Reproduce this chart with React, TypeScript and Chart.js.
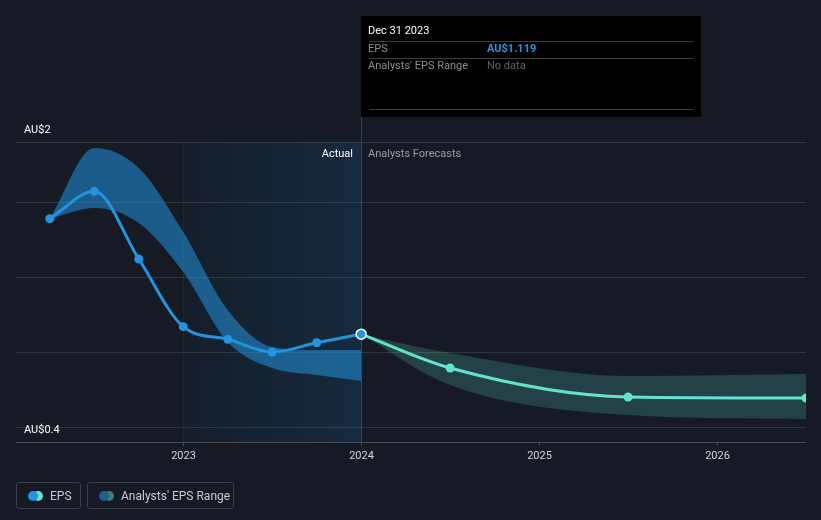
import React, { useEffect, useRef } from "react";
import { Chart, registerables } from "chart.js";

Chart.register(...registerables);

// ---- data ----
const pastDates = [2022.25, 2022.5, 2022.75, 2023.0, 2023.25, 2023.5, 2023.75, 2024.0];
const epsActual = [1.889, 2.071, 1.62, 1.169, 1.085, 1.0, 1.062, 1.119];
const pastRangeHigh = [1.889, 2.36, 2.227, 1.8, 1.28, 1.033, 1.013, 1.013];
const pastRangeLow = [1.889, 1.96, 1.86, 1.533, 1.067, 0.893, 0.847, 0.807];

const forecastDates = [2024.0, 2024.5, 2025.5, 2026.5];
const epsForecast = [1.119, 0.893, 0.7, 0.693];
const forecastHigh = [1.119, 0.993, 0.84, 0.853];
const forecastLow = [1.119, 0.78, 0.58, 0.553];

const yearTicks = [2023, 2024, 2025, 2026];
const gridValues = [0.5, 1.0, 1.5, 2.0, 2.4];
const yMin = 0.4;
const yMax = 2.4;
const xMin = 2022.06;
const xMax = 2026.5;
const actualStart = 2023;
const actualEnd = 2024;
const yLabelTop = "AU$2";
const yLabelBottom = "AU$0.4";
const tooltipDate = "Dec 31 2023";
const tooltipEpsLabel = "EPS";
const tooltipEpsValue = "AU$1.119";
const tooltipRangeLabel = "Analysts' EPS Range";
const tooltipRangeValue = "No data";

const BG = "#151a24";
const BLUE = "#2394df";
const TEAL = "#62e3cf";
const FONT = "Roboto, 'Open Sans', sans-serif";

const toXY = (xs: number[], ys: number[]) => xs.map((x, i) => ({ x, y: ys[i] }));

const overlayPlugin = {
  id: "overlay",
  beforeDatasetsDraw(chart: any) {
    const { ctx, chartArea: a, scales } = chart;
    const xs = scales.x;
    const x0 = Math.round(xs.getPixelForValue(actualStart)) + 0.5;
    const x1 = Math.round(xs.getPixelForValue(actualEnd)) + 0.5;
    ctx.save();
    const g = ctx.createLinearGradient(x0, 0, x1, 0);
    g.addColorStop(0, "rgba(35,148,223,0.03)");
    g.addColorStop(1, "rgba(35,148,223,0.14)");
    ctx.fillStyle = g;
    ctx.fillRect(x0, a.top, x1 - x0, a.bottom - a.top);
    ctx.lineWidth = 1;
    ctx.strokeStyle = "rgba(35,148,223,0.12)";
    ctx.beginPath();
    ctx.moveTo(x0, a.top);
    ctx.lineTo(x0, a.bottom);
    ctx.stroke();
    ctx.strokeStyle = "rgba(35,148,223,0.4)";
    ctx.beginPath();
    ctx.moveTo(x1, a.top - 126);
    ctx.lineTo(x1, a.bottom);
    ctx.stroke();
    // axis line
    ctx.strokeStyle = "#464b54";
    ctx.beginPath();
    ctx.moveTo(a.left, a.bottom + 0.5);
    ctx.lineTo(a.right, a.bottom + 0.5);
    ctx.stroke();
    // x ticks + labels
    ctx.fillStyle = "#d8d8d8";
    ctx.font = `11px ${FONT}`;
    ctx.textAlign = "center";
    ctx.textBaseline = "middle";
    yearTicks.forEach((yr) => {
      const px = Math.round(xs.getPixelForValue(yr)) + 0.5;
      ctx.beginPath();
      ctx.moveTo(px, a.bottom);
      ctx.lineTo(px, a.bottom + 4);
      ctx.stroke();
      ctx.fillText(String(yr), px, a.bottom + 14);
    });
    ctx.restore();
  },
  afterDraw(chart: any) {
    const { ctx, chartArea: a, scales } = chart;
    const xs = scales.x;
    const ys = scales.y;
    const x1 = Math.round(xs.getPixelForValue(actualEnd));
    ctx.save();
    ctx.font = `11px ${FONT}`;
    ctx.textBaseline = "middle";
    // y labels
    ctx.fillStyle = "#ffffff";
    ctx.textAlign = "left";
    ctx.fillText(yLabelTop, a.left + 8, ys.getPixelForValue(yMax) - 12);
    ctx.fillText(yLabelBottom, a.left + 8, ys.getPixelForValue(yMin) - 12);
    // Actual / forecasts labels
    ctx.textAlign = "right";
    ctx.fillStyle = "#ffffff";
    ctx.fillText("Actual", x1 - 8, a.top + 12);
    ctx.textAlign = "left";
    ctx.fillStyle = "#9a9ea6";
    ctx.fillText("Analysts Forecasts", x1 + 7, a.top + 12);
    // tooltip box
    const bx = x1;
    const by = a.top - 126;
    const bw = 340;
    const bh = 101;
    ctx.fillStyle = "#000000";
    ctx.fillRect(bx, by, bw, bh);
    ctx.strokeStyle = "#3c3c3c";
    ctx.lineWidth = 1;
    [25, 42, 93].forEach((dy) => {
      ctx.beginPath();
      ctx.moveTo(bx + 8, by + dy + 0.5);
      ctx.lineTo(bx + bw - 8, by + dy + 0.5);
      ctx.stroke();
    });
    ctx.textAlign = "left";
    ctx.fillStyle = "#ffffff";
    ctx.font = `11px ${FONT}`;
    ctx.fillText(tooltipDate, bx + 7, by + 15);
    ctx.fillStyle = "#8a8d93";
    ctx.fillText(tooltipEpsLabel, bx + 7, by + 33);
    ctx.fillText(tooltipRangeLabel, bx + 7, by + 50);
    ctx.fillStyle = BLUE;
    ctx.font = `bold 11px ${FONT}`;
    ctx.fillText(tooltipEpsValue, bx + 126, by + 33);
    ctx.fillStyle = "#5e6166";
    ctx.font = `11px ${FONT}`;
    ctx.fillText(tooltipRangeValue, bx + 126, by + 50);
    ctx.restore();
  },
};

function LegendItem({ label, c1, c2, width }: { label: string; c1: string; c2: string; width: number }) {
  return (
    <div
      style={{
        position: "relative",
        width,
        height: 27,
        boxSizing: "border-box",
        border: "1px solid #3b404a",
        borderRadius: 3,
        fontFamily: FONT,
        fontSize: 12,
        color: "#c9cbcf",
      }}
    >
      <span style={{ position: "absolute", left: 16, top: 8, width: 10, height: 10, borderRadius: 5, background: c2 }} />
      <span style={{ position: "absolute", left: 11, top: 8, width: 10, height: 10, borderRadius: 5, background: c1 }} />
      <span style={{ position: "absolute", left: 33, top: 5, lineHeight: "16px" }}>{label}</span>
    </div>
  );
}

export default function App() {
  const ref = useRef<HTMLCanvasElement | null>(null);
  useEffect(() => {
    if (!ref.current) return;
    const nA = pastDates.length;
    const chart = new Chart(ref.current, {
      type: "line",
      data: {
        datasets: [
          {
            label: "pastHigh",
            data: toXY(pastDates, pastRangeHigh),
            borderWidth: 0,
            pointRadius: 0,
            fill: 1,
            backgroundColor: "rgba(35,148,223,0.55)",
            cubicInterpolationMode: "monotone",
            order: 5,
          },
          {
            label: "pastLow",
            data: toXY(pastDates, pastRangeLow),
            borderWidth: 0,
            pointRadius: 0,
            fill: false,
            cubicInterpolationMode: "monotone",
            order: 5,
          },
          {
            label: "forecastHigh",
            data: toXY(forecastDates, forecastHigh),
            borderWidth: 0,
            pointRadius: 0,
            fill: 3,
            backgroundColor: "rgba(98,227,207,0.2)",
            cubicInterpolationMode: "monotone",
            order: 4,
          },
          {
            label: "forecastLow",
            data: toXY(forecastDates, forecastLow),
            borderWidth: 0,
            pointRadius: 0,
            fill: false,
            cubicInterpolationMode: "monotone",
            order: 4,
          },
          {
            label: "EPS forecast",
            data: toXY(forecastDates, epsForecast),
            borderColor: TEAL,
            borderWidth: 3,
            pointRadius: forecastDates.map((_, i) => (i === 0 ? 0 : 4.5)),
            pointBackgroundColor: TEAL,
            pointBorderWidth: 0,
            fill: false,
            cubicInterpolationMode: "monotone",
            order: 2,
          },
          {
            label: "EPS",
            data: toXY(pastDates, epsActual),
            borderColor: BLUE,
            borderWidth: 3,
            pointRadius: pastDates.map((_, i) => (i === nA - 1 ? 5 : 4.5)),
            pointBackgroundColor: BLUE,
            pointBorderColor: pastDates.map((_, i) => (i === nA - 1 ? "#ffffff" : BLUE)),
            pointBorderWidth: pastDates.map((_, i) => (i === nA - 1 ? 1.5 : 0)),
            fill: false,
            cubicInterpolationMode: "monotone",
            order: 1,
          },
        ],
      },
      options: {
        responsive: false,
        animation: false,
        events: [],
        layout: { padding: { left: 16, right: 15, top: 142, bottom: 78 } },
        plugins: { legend: { display: false }, tooltip: { enabled: false } },
        scales: {
          x: { type: "linear", min: xMin, max: xMax, display: false },
          y: {
            type: "linear",
            min: yMin,
            max: yMax,
            afterBuildTicks: (s: any) => {
              s.ticks = gridValues.map((v) => ({ value: v }));
            },
            ticks: { display: false },
            border: { display: false },
            grid: { color: "rgba(255,255,255,0.12)", drawTicks: false, tickLength: 0 },
          },
        },
      },
      plugins: [overlayPlugin],
    } as any);
    return () => chart.destroy();
  }, []);

  return (
    <div style={{ position: "absolute", left: 0, top: 0, width: 821, height: 520, background: BG, overflow: "hidden" }}>
      <canvas ref={ref} width={821} height={520} style={{ position: "absolute", left: 0, top: 0, width: 821, height: 520 }} />
      <div style={{ position: "absolute", left: 16, top: 482, display: "flex", gap: 6 }}>
        <LegendItem label="EPS" c1={BLUE} c2={TEAL} width={65} />
        <LegendItem label="Analysts' EPS Range" c1="#1f5f91" c2="#3b7f7c" width={147} />
      </div>
    </div>
  );
}
